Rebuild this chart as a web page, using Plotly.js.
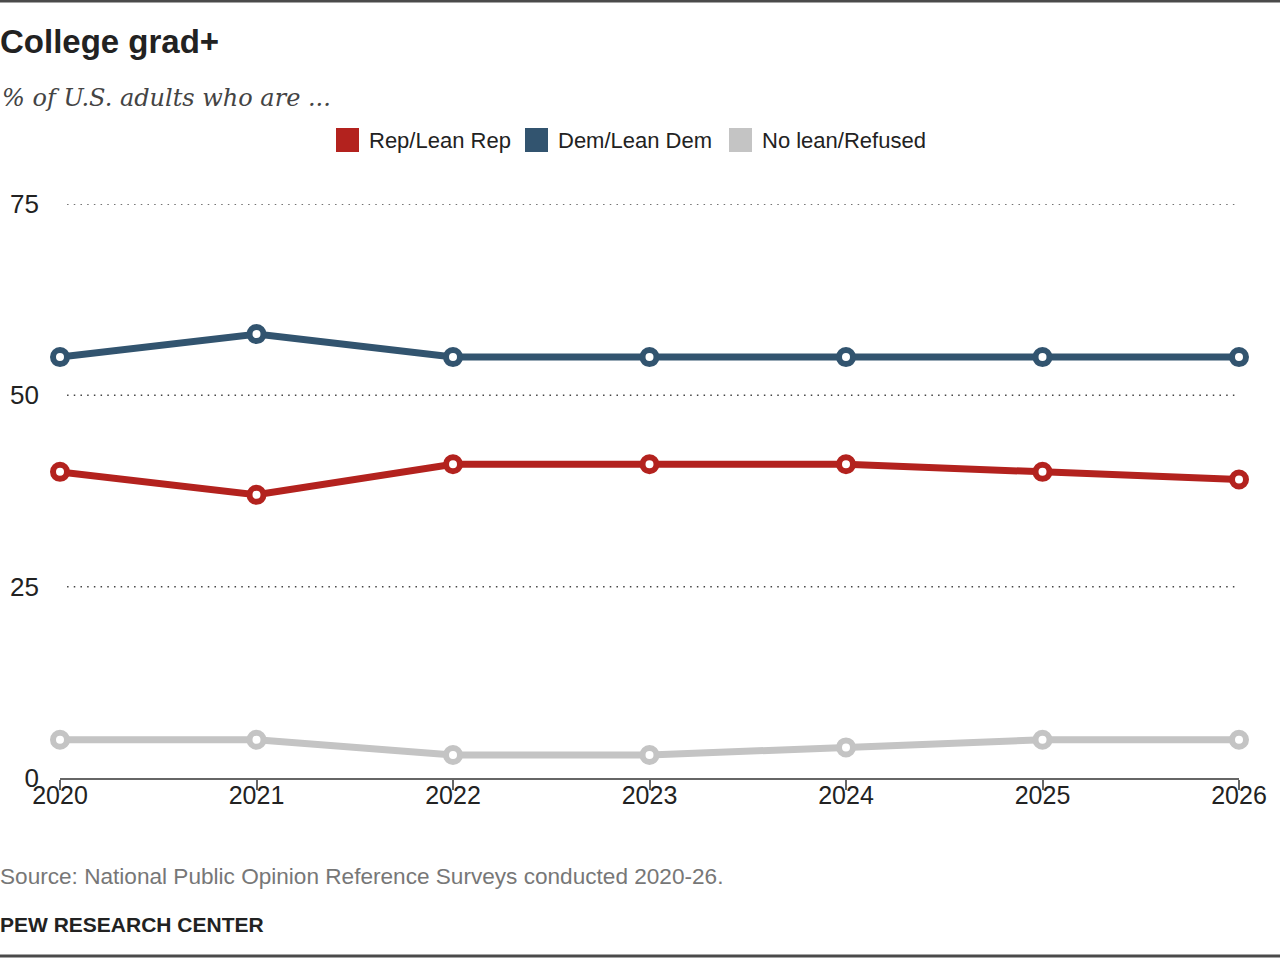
<!DOCTYPE html>
<html>
<head>
<meta charset="utf-8">
<script src="https://cdn.plot.ly/plotly-3.0.1.min.js"></script>
<style>
  html, body { margin: 0; padding: 0; background: #fff; }
  #chart { width: 1280px; height: 958px; }
</style>
</head>
<body>
<div id="chart"></div>
<script>
// Party identification among college graduates, 2020-2026
const years = [2020, 2021, 2022, 2023, 2024, 2025, 2026];
const seriesNames = ["Rep/Lean Rep", "Dem/Lean Dem", "No lean/Refused"];
const repValues = [40, 37, 41, 41, 41, 40, 39];
const demValues = [55, 58, 55, 55, 55, 55, 55];
const noLeanValues = [5, 5, 3, 3, 4, 5, 5];
const seriesColors = ["#b3221e", "#32546f", "#c4c4c4"];
const yTicks = [0, 25, 50, 75];
const gridValues = [25, 50, 75];

const seriesValues = [repValues, demValues, noLeanValues];

// Draw lighter series first so the party lines sit on top
const drawOrder = [2, 0, 1];
const traces = drawOrder.map(i => ({
  type: "scatter",
  mode: "lines+markers",
  x: years,
  y: seriesValues[i],
  name: seriesNames[i],
  showlegend: false,
  cliponaxis: false,
  hoverinfo: "x+y+name",
  line: { color: seriesColors[i], width: 7 },
  marker: {
    symbol: "circle",
    size: 14,
    color: "#ffffff",
    line: { color: seriesColors[i], width: 6 }
  }
}));

const shapes = [];
const annotations = [];

// Dotted reference lines
gridValues.forEach(v => {
  shapes.push({
    type: "line", xref: "paper", yref: "y",
    x0: 0.006, x1: 1, y0: v, y1: v,
    layer: "below",
    line: { color: "#444", width: 1.5, dash: "1.5px,5.2px" }
  });
});

// Frame rules at top and bottom of the graphic
shapes.push({
  type: "line", xref: "paper", yref: "paper",
  x0: -60 / 1179, x1: 1 + 41 / 1179, y0: 1 + 203 / 574, y1: 1 + 203 / 574,
  line: { color: "#4a4a4a", width: 3 }
});
shapes.push({
  type: "line", xref: "paper", yref: "paper",
  x0: -60 / 1179, x1: 1 + 41 / 1179, y0: -178 / 574, y1: -178 / 574,
  line: { color: "#4a4a4a", width: 3 }
});

// Legend: colour swatches with labels
const legendX = [336, 525, 729];
const legendY = 140;
seriesNames.forEach((name, i) => {
  shapes.push({
    type: "rect", xref: "paper", yref: "paper",
    x0: (legendX[i] - 60) / 1179, x1: (legendX[i] + 23 - 60) / 1179,
    y0: (778 - legendY - 12) / 574, y1: (778 - legendY + 12) / 574,
    line: { width: 0 }, fillcolor: seriesColors[i]
  });
  annotations.push({
    xref: "paper", yref: "paper",
    x: (legendX[i] + 31 - 60) / 1179, y: (778 - legendY) / 574,
    xanchor: "left", yanchor: "middle", showarrow: false,
    text: name,
    font: { family: "Liberation Sans, Arial, sans-serif", size: 22, color: "#222" }
  });
});

// Subtitle, source and credit lines
annotations.push({
  xref: "paper", yref: "paper",
  x: -60 / 1179, y: (778 - 98) / 574,
  xanchor: "left", yanchor: "middle", showarrow: false,
  text: "% of U.S. adults who are ...",
  font: { family: "DejaVu Serif, serif", size: 24, color: "#444", style: "italic" }
});
annotations.push({
  xref: "paper", yref: "paper",
  x: -62 / 1179, y: (778 - 876) / 574,
  xanchor: "left", yanchor: "middle", showarrow: false,
  text: "Source: National Public Opinion Reference Surveys conducted 2020-26.",
  font: { family: "Liberation Sans, Arial, sans-serif", size: 22.6, color: "#777" }
});
annotations.push({
  xref: "paper", yref: "paper",
  x: -62 / 1179, y: (778 - 924) / 574,
  xanchor: "left", yanchor: "middle", showarrow: false,
  text: "<b>PEW RESEARCH CENTER</b>",
  font: { family: "Liberation Sans, Arial, sans-serif", size: 21, color: "#222" }
});

const layout = {
  width: 1280,
  height: 958,
  paper_bgcolor: "#ffffff",
  plot_bgcolor: "#ffffff",
  margin: { l: 60, r: 41, t: 204, b: 180, pad: 0 },
  showlegend: false,
  title: {
    text: "<b>College grad+</b>",
    x: 0, xref: "container", xanchor: "left",
    y: 1 - 41 / 958, yref: "container", yanchor: "middle",
    pad: { l: 0 },
    font: { family: "Liberation Sans, Arial, sans-serif", size: 33, color: "#222" }
  },
  xaxis: {
    range: [2020, 2026],
    tickmode: "array",
    tickvals: years,
    ticktext: years.map(String),
    showgrid: false,
    zeroline: false,
    showline: true,
    linecolor: "#666",
    linewidth: 2,
    ticks: "outside",
    ticklen: 10,
    tickwidth: 2,
    tickcolor: "#666",
    ticklabelstandoff: -16,
    tickfont: { family: "Liberation Sans, Arial, sans-serif", size: 25, color: "#222" },
    fixedrange: true
  },
  yaxis: {
    range: [0, 75],
    tickmode: "array",
    tickvals: yTicks,
    ticktext: yTicks.map(String),
    showgrid: false,
    zeroline: false,
    showline: false,
    ticks: "",
    ticklabelstandoff: 20,
    tickfont: { family: "Liberation Sans, Arial, sans-serif", size: 26, color: "#222" },
    fixedrange: true
  },
  shapes: shapes,
  annotations: annotations
};

Plotly.newPlot("chart", traces, layout, { displayModeBar: false, staticPlot: false });
</script>
</body>
</html>
